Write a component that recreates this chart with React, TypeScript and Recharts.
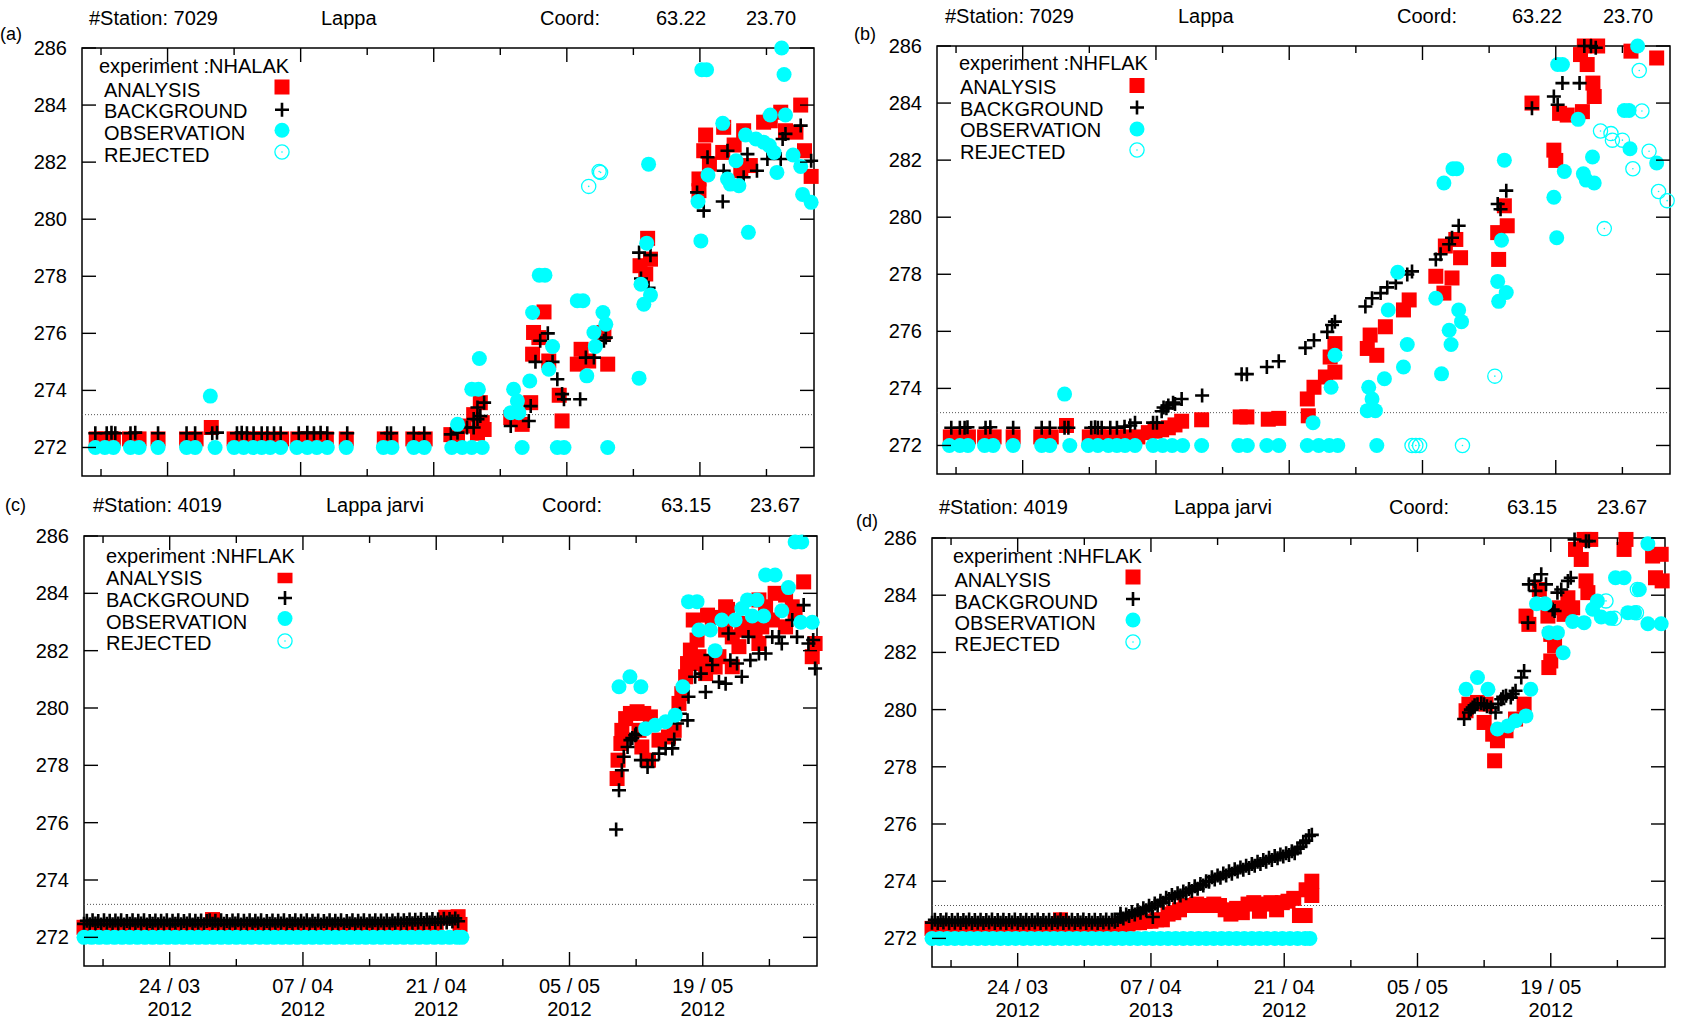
import { ScatterChart, Scatter, XAxis, YAxis, ReferenceArea, ReferenceLine } from 'recharts'

type Pt = [number, number]

// x = days counted from 24/03/2012, y = lake surface temperature (K)
const dayDomain: [number, number] = [-9, 68]
const tempDomain: [number, number] = [271, 286]
const dayTicks = [-7, 0, 7, 14, 21, 28, 35, 42, 49, 56, 63]
const labelDays = [0, 14, 28, 42, 56]
const tempTicks = [272, 274, 276, 278, 280, 282, 284, 286]
const dateLabels = ['24 / 03', '07 / 04', '21 / 04', '05 / 05', '19 / 05']
const yearsC = ['2012', '2012', '2012', '2012', '2012']
const yearsD = ['2012', '2013', '2012', '2012', '2012']
const freezing = 273.15
const seriesNames = ['ANALYSIS', 'BACKGROUND', 'OBSERVATION', 'REJECTED']

// ---------- (a) station 7029, NHALAK ----------
const aAnalysis: Pt[] = [
  [-7.5, 272.3], [-6.6, 272.3], [-5.7, 272.3], [-4.0, 272.3], [-3.0, 272.3], [-1.0, 272.3], [2.0, 272.3], [3.0, 272.3],
  [4.6, 272.7], [7.0, 272.3], [8.0, 272.3], [9.0, 272.3], [10.0, 272.3], [11.0, 272.3], [12.0, 272.3], [13.7, 272.3],
  [14.7, 272.3], [15.7, 272.3], [16.7, 272.3], [18.8, 272.3], [22.8, 272.3], [23.5, 272.3], [25.8, 272.3], [27.1, 272.3],
  [29.8, 272.45], [30.5, 272.46], [31.2, 272.75], [32.2, 273.15], [32.6, 272.5], [32.9, 273.57], [33.1, 272.87], [33.3, 272.63],
  [36.1, 273.05], [37.3, 272.81], [38.2, 273.57], [38.4, 275.27], [38.5, 276.03], [39.06, 275.85], [39.6, 276.75], [40.1, 275.03],
  [41.2, 273.83], [41.5, 272.93], [43.1, 274.92], [43.5, 275.44], [44.3, 275.03], [45.9, 276.03], [46.3, 274.92], [49.7, 278.37],
  [50.3, 278.08], [50.5, 279.33], [50.8, 278.6], [55.9, 281.41], [55.9, 281.0], [56.4, 282.4], [56.6, 282.95], [57.0, 281.93],
  [58.4, 282.34], [58.5, 283.22], [59.6, 282.6], [60.3, 281.7], [60.6, 283.1], [61.3, 281.88], [62.7, 283.4], [63.4, 283.45],
  [64.5, 283.75], [65.0, 283.1], [66.1, 283.05], [66.6, 284.0], [67.0, 282.4], [67.7, 281.5],
]
const aBackground: Pt[] = [
  [-7.6, 272.5], [-6.4, 272.5], [-5.9, 272.52], [-5.5, 272.5], [-3.9, 272.5], [-3.4, 272.52], [-1.0, 272.5], [2.0, 272.5],
  [2.9, 272.5], [4.7, 272.5], [5.2, 272.52], [7.3, 272.5], [7.8, 272.52], [8.35, 272.5], [9.05, 272.5], [9.9, 272.5],
  [10.5, 272.5], [11.2, 272.5], [11.9, 272.5], [13.8, 272.5], [14.7, 272.52], [15.4, 272.5], [16.1, 272.52], [16.8, 272.5],
  [18.9, 272.5], [23.1, 272.5], [23.5, 272.5], [25.9, 272.5], [27.0, 272.5], [29.8, 272.46], [30.5, 272.52], [31.5, 272.7],
  [32.2, 272.7], [32.2, 273.0], [32.6, 272.99], [32.6, 273.4], [32.9, 273.1], [33.3, 273.57], [36.1, 272.75], [38.0, 272.93],
  [38.2, 273.45], [38.7, 275.0], [39.2, 275.74], [40.0, 276.0], [40.5, 275.0], [41.0, 274.39], [41.5, 273.87], [41.7, 273.69],
  [43.4, 273.69], [44.0, 275.15], [44.85, 275.15], [45.9, 275.74], [46.1, 275.85], [49.6, 278.83], [49.8, 277.92], [50.6, 277.6],
  [50.8, 278.74], [55.7, 280.94], [56.4, 280.3], [56.8, 282.17], [58.4, 280.62], [58.5, 281.7], [58.9, 282.4], [60.6, 281.47],
  [61.0, 282.28], [62.0, 281.7], [63.1, 282.11], [64.5, 282.11], [64.7, 282.81], [65.0, 282.99], [66.6, 283.28], [67.7, 282.05],
]
const aObservation: Pt[] = [
  [-7.6, 272], [-6.6, 272], [-5.7, 272], [-3.9, 272], [-3.0, 272], [-1.0, 272], [2.0, 272], [2.9, 272],
  [5.0, 272], [7.0, 272], [8.0, 272], [9.0, 272], [9.9, 272], [10.8, 272], [11.9, 272], [13.6, 272],
  [14.7, 272], [15.7, 272], [16.8, 272], [18.8, 272], [22.7, 272], [23.6, 272], [25.9, 272], [27.0, 272],
  [29.9, 272], [31.0, 272], [32.0, 272], [33.1, 272], [37.3, 272], [41.0, 272], [41.7, 272], [46.3, 272],
  [4.5, 273.8], [30.5, 272.81], [32.0, 274.04], [32.7, 274.04], [32.8, 275.12], [36.1, 273.22], [36.95, 273.22], [36.8, 273.63],
  [36.4, 274.04], [38.1, 274.33], [38.4, 276.73], [39.1, 278.04], [39.7, 278.04], [40.1, 274.74], [40.5, 275.54], [43.1, 277.14],
  [43.7, 277.14], [44.1, 274.51], [44.85, 276.03], [45.0, 275.54], [45.8, 276.73], [46.1, 276.32], [49.6, 274.43], [49.8, 277.72],
  [50.1, 277.02], [50.4, 279.16], [50.6, 281.93], [50.8, 277.34], [55.8, 280.62], [56.1, 279.24], [56.2, 285.24], [56.7, 285.24],
  [56.85, 281.55], [58.4, 283.36], [58.9, 281.41], [59.2, 281.23], [59.8, 282.05], [60.1, 281.17], [60.8, 282.95], [61.1, 279.54],
  [61.9, 282.81], [62.7, 282.7], [63.3, 282.58], [63.4, 283.65], [63.8, 282.34], [64.1, 281.64], [64.6, 286.0], [64.85, 285.07],
  [65.0, 283.65], [65.8, 282.25], [66.6, 281.85], [66.8, 280.87], [67.7, 280.59],
]
const aRejected: Pt[] = [[44.3, 281.15], [45.4, 281.67], [45.55, 281.64]]

// ---------- (b) station 7029, NHFLAK ----------
const bAnalysis: Pt[] = [
  [-7.6, 272.3], [-6.6, 272.3], [-5.7, 272.3], [-4.0, 272.3], [-3.0, 272.3], [-1.0, 272.3], [1.9, 272.3], [3.0, 272.3],
  [4.6, 272.7], [7.0, 272.3], [8.0, 272.3], [9.0, 272.3], [10.0, 272.3], [11.0, 272.3], [12.1, 272.3], [13.2, 272.45],
  [13.9, 272.5], [14.6, 272.55], [15.3, 272.62], [16.0, 272.72], [16.7, 272.85], [18.8, 272.9], [22.85, 273.0], [23.55, 273.0],
  [25.8, 272.92], [26.9, 272.95], [29.9, 273.63], [30.0, 273.04], [30.6, 274.04], [31.8, 274.4], [32.3, 275.1], [32.8, 274.57],
  [32.8, 275.57], [36.2, 275.4], [36.5, 275.87], [37.2, 275.16], [38.1, 276.16], [40.0, 276.75], [40.6, 277.1], [43.4, 277.93],
  [44.25, 277.34], [44.4, 278.99], [45.1, 277.87], [45.5, 279.22], [46.0, 278.58], [49.9, 279.46], [50.0, 278.52], [50.6, 280.4],
  [50.9, 279.7], [53.5, 284.0], [55.8, 282.35], [56.0, 281.99], [56.4, 283.64], [57.2, 283.58], [58.6, 285.7], [58.8, 283.7],
  [59.0, 286.0], [59.3, 285.35], [59.9, 284.7], [60.04, 284.23], [60.4, 286.0], [63.9, 285.82], [66.6, 285.58],
]
const bBackground: Pt[] = [
  [-7.5, 272.62], [-6.6, 272.62], [-6.1, 272.62], [-5.8, 272.64], [-3.9, 272.62], [-3.4, 272.64], [-1.0, 272.62], [2.0, 272.62],
  [2.85, 272.62], [4.4, 272.62], [4.8, 272.62], [7.2, 272.62], [7.6, 272.64], [7.9, 272.62], [8.3, 272.62], [9.2, 272.62],
  [9.9, 272.62], [10.7, 272.66], [11.3, 272.7], [11.8, 272.8], [13.7, 272.8], [14.1, 272.8], [14.6, 273.2], [14.8, 273.33],
  [15.1, 273.3], [15.3, 273.4], [15.8, 273.5], [16.0, 273.45], [16.7, 273.63], [18.85, 273.75], [23.0, 274.5], [23.55, 274.5],
  [25.65, 274.75], [26.9, 274.95], [29.7, 275.42], [30.6, 275.69], [32.0, 275.98], [32.5, 276.22], [32.8, 276.34], [36.0, 276.87],
  [36.7, 277.16], [37.6, 277.34], [38.3, 277.54], [39.2, 277.7], [40.4, 277.99], [40.9, 278.1], [43.4, 278.52], [43.9, 278.7],
  [44.8, 279.05], [45.1, 279.28], [45.8, 279.7], [49.9, 280.46], [50.2, 280.28], [50.8, 280.93], [53.5, 283.82], [55.8, 284.23],
  [56.2, 283.94], [56.7, 284.7], [58.5, 284.7], [59.0, 286.0], [59.7, 286.0], [60.2, 285.94],
]
const bObservation: Pt[] = [
  [-7.7, 272], [-6.6, 272], [-5.75, 272], [-4.0, 272], [-3.1, 272], [-1.0, 272], [2.0, 272], [2.85, 272],
  [4.95, 272], [6.9, 272], [7.9, 272], [9.0, 272], [9.9, 272], [10.75, 272], [11.8, 272], [13.7, 272],
  [14.7, 272], [15.7, 272], [16.8, 272], [18.8, 272], [22.7, 272], [23.6, 272], [25.65, 272], [26.9, 272],
  [29.9, 272], [31.1, 272], [32.2, 272], [33.1, 272], [37.2, 272],
  [4.4, 273.8], [30.5, 272.8], [32.4, 274.04], [32.8, 275.16], [36.2, 273.22], [37.05, 273.22], [36.7, 273.63], [36.35, 274.04],
  [38.0, 274.34], [38.4, 276.75], [39.4, 278.07], [40.0, 274.75], [40.4, 275.54], [43.4, 277.16], [44.0, 274.51], [44.25, 281.2],
  [44.8, 276.04], [45.0, 275.54], [45.2, 281.7], [45.6, 281.7], [45.8, 276.75], [46.1, 276.34], [49.9, 277.75], [50.0, 277.05],
  [50.3, 279.19], [50.6, 282.0], [50.8, 277.36], [55.8, 280.7], [56.1, 279.28], [56.2, 285.35], [56.7, 285.35], [56.9, 281.6],
  [58.35, 283.43], [58.9, 281.52], [59.2, 281.3], [59.86, 282.11], [60.04, 281.2], [63.2, 283.74], [63.7, 283.74], [63.8, 282.4],
  [64.6, 286.0], [66.6, 281.9],
]
const bRejected: Pt[] = [
  [40.9, 272], [41.3, 272], [41.7, 272], [46.2, 272], [49.6, 274.43], [61.1, 279.6], [60.7, 283.02], [61.8, 282.93],
  [61.95, 282.7], [63.0, 282.7], [64.1, 281.7], [64.77, 285.14], [65.05, 283.72], [65.8, 282.31], [66.8, 280.9], [67.7, 280.58],
]

// ---------- (c) & (d) station 4019 ----------
// frozen-lake observations held at 272 K
const obs4019BandDays = [
  -9.0, -8.2, -7.4, -6.6, -5.8, -5.0, -4.2, -3.4, -2.6, -1.8, -1.0, -0.2, 0.6, 1.4, 2.2, 3.0, 3.8,
  4.6, 5.4, 6.2, 7.0, 7.8, 8.6, 9.4, 10.2, 11.0, 11.8, 12.6, 13.4, 14.2, 15.0, 15.8, 16.6,
  17.4, 18.2, 19.0, 19.8, 20.6, 21.4, 22.2, 23.0, 23.8, 24.6, 25.4, 26.2, 27.0, 27.8, 28.6, 29.4, 30.2, 30.7,
]
const obs4019BandValue = 272

const cAnalysisBandDays = [
  -9.0, -8.0, -7.0, -6.0, -5.0, -4.0, -3.0, -2.0, -1.0, 0.0, 1.0, 2.0, 3.0, 4.0, 5.0, 6.0, 7.0, 8.0, 9.0, 10.0,
  11.0, 12.0, 13.0, 14.0, 15.0, 16.0, 17.0, 18.0, 19.0, 20.0, 21.0, 22.0, 23.0, 24.0, 25.0, 26.0, 27.0, 28.0,
]
const cAnalysisBandValue = 272.35
const cAnalysis: Pt[] = [
  [4.5, 272.62], [29.0, 272.7], [30.3, 272.72], [30.5, 272.45],
  [47.0, 277.54], [47.1, 278.18], [47.4, 278.76], [47.5, 279.22], [47.9, 279.63], [48.4, 279.81], [49.1, 279.87], [49.8, 279.81],
  [50.5, 279.69], [49.3, 279.22], [49.6, 278.64], [50.3, 278.18], [51.4, 278.88], [52.4, 278.99], [53.0, 279.22], [53.5, 280.16],
  [53.8, 280.5], [54.2, 281.09], [54.4, 281.55], [54.7, 282.02], [55.0, 283.07], [55.4, 282.37], [55.6, 281.79], [55.9, 281.55],
  [56.3, 281.2], [56.5, 283.24], [56.8, 281.55], [57.0, 283.16], [57.3, 281.43], [57.7, 281.79], [58.4, 282.72], [58.4, 283.53],
  [58.6, 283.44], [59.1, 282.48], [59.1, 281.44], [59.8, 282.14], [60.1, 282.95], [60.5, 282.72], [61.5, 282.72], [61.9, 283.77],
  [61.9, 282.25], [62.2, 282.83], [62.6, 283.53], [63.3, 283.07], [63.6, 284.0], [64.7, 283.94], [64.7, 282.83], [65.4, 283.53],
  [65.7, 283.3], [66.6, 284.4], [67.5, 281.79], [67.8, 282.25],
]
const cBackground: Pt[] = [
  [-9.0, 272.47], [-8.7, 272.58], [-8.4, 272.46], [-8.1, 272.6], [-7.8, 272.48], [-7.5, 272.57], [-7.2, 272.45], [-6.9, 272.6],
  [-6.6, 272.47], [-6.3, 272.58], [-6.0, 272.46], [-5.7, 272.59], [-5.4, 272.48], [-5.1, 272.6], [-4.8, 272.45], [-4.5, 272.57],
  [-4.2, 272.47], [-3.9, 272.6], [-3.6, 272.46], [-3.3, 272.58], [-3.0, 272.48], [-2.7, 272.6], [-2.4, 272.45], [-2.1, 272.57],
  [-1.8, 272.47], [-1.5, 272.59], [-1.2, 272.46], [-0.9, 272.58], [-0.6, 272.48], [-0.3, 272.6], [0.0, 272.45], [0.3, 272.58],
  [0.6, 272.47], [0.9, 272.6], [1.2, 272.46], [1.5, 272.57], [1.8, 272.48], [2.1, 272.6], [2.4, 272.45], [2.7, 272.58],
  [3.0, 272.47], [3.3, 272.59], [3.6, 272.46], [3.9, 272.57], [4.2, 272.6], [4.5, 272.47], [4.8, 272.58], [5.1, 272.45],
  [5.4, 272.6], [5.7, 272.47], [6.0, 272.57], [6.3, 272.46], [6.6, 272.59], [6.9, 272.48], [7.2, 272.6], [7.5, 272.45],
  [7.8, 272.58], [8.1, 272.47], [8.4, 272.6], [8.7, 272.46], [9.0, 272.58], [9.3, 272.48], [9.6, 272.6], [9.9, 272.45],
  [10.2, 272.57], [10.5, 272.47], [10.8, 272.59], [11.1, 272.46], [11.4, 272.58], [11.7, 272.48], [12.0, 272.6], [12.3, 272.45],
  [12.6, 272.57], [12.9, 272.47], [13.2, 272.6], [13.5, 272.46], [13.8, 272.58], [14.1, 272.48], [14.4, 272.6], [14.7, 272.46],
  [15.0, 272.58], [15.3, 272.47], [15.6, 272.59], [15.9, 272.45], [16.2, 272.57], [16.5, 272.48], [16.8, 272.6], [17.1, 272.46],
  [17.4, 272.58], [17.7, 272.47], [18.0, 272.6], [18.3, 272.45], [18.6, 272.57], [18.9, 272.48], [19.2, 272.6], [19.5, 272.46],
  [19.8, 272.58], [20.1, 272.48], [20.4, 272.6], [20.7, 272.46], [21.0, 272.58], [21.3, 272.48], [21.6, 272.6], [21.9, 272.47],
  [22.2, 272.59], [22.5, 272.48], [22.8, 272.6], [23.1, 272.47], [23.4, 272.59], [23.7, 272.49], [24.0, 272.61], [24.3, 272.48],
  [24.6, 272.6], [24.9, 272.5], [25.2, 272.62], [25.5, 272.49], [25.8, 272.61], [26.1, 272.51], [26.4, 272.63], [26.7, 272.5],
  [27.0, 272.62], [27.3, 272.52], [27.6, 272.64], [27.9, 272.51], [28.2, 272.63], [28.5, 272.53], [28.8, 272.65], [29.1, 272.52],
  [29.4, 272.64], [29.7, 272.55], [30.0, 272.66], [30.3, 272.56],
  [46.9, 275.76], [47.2, 277.13], [47.5, 277.83], [47.7, 278.3], [48.1, 278.64], [48.4, 278.88], [48.6, 278.95], [48.9, 279.05],
  [49.0, 279.1], [49.5, 278.18], [50.2, 277.94], [50.7, 278.18], [51.4, 278.41], [52.1, 278.59], [52.8, 278.59], [53.0, 278.9],
  [53.3, 279.46], [53.6, 279.8], [54.4, 279.57], [54.5, 280.39], [55.2, 281.09], [55.8, 281.2], [56.3, 280.56], [56.8, 281.85],
  [57.0, 281.5], [57.7, 280.91], [58.4, 280.85], [58.7, 282.6], [58.9, 281.67], [59.6, 281.55], [60.1, 281.09], [60.8, 282.48],
  [61.0, 281.67], [61.9, 281.9], [62.6, 281.9], [63.3, 282.48], [64.0, 282.48], [64.3, 282.25], [65.4, 283.07], [65.9, 282.48],
  [66.6, 283.59], [67.1, 282.25], [67.6, 282.37], [67.8, 281.38],
]
const cObservation: Pt[] = [
  [47.2, 280.74], [48.35, 281.09], [49.5, 280.74], [50.0, 279.28], [51.0, 279.4], [52.1, 279.52], [53.1, 279.75], [53.9, 280.74],
  [54.5, 283.71], [55.4, 283.71], [55.6, 282.72], [56.8, 282.72], [57.3, 282.0], [58.0, 283.07], [59.4, 283.07], [60.1, 283.47],
  [60.7, 283.77], [61.7, 283.77], [61.2, 283.21], [62.4, 283.21], [62.6, 284.64], [63.6, 284.64], [64.3, 283.39], [65.0, 284.2],
  [65.7, 285.79], [66.4, 285.79], [66.3, 282.99], [67.5, 282.99],
]
const cRejected: Pt[] = []

const dAnalysisBandDays = [
  -9.0, -8.0, -7.0, -6.0, -5.0, -4.0, -3.0, -2.0, -1.0, 0.0, 1.0, 2.0, 3.0, 4.0, 5.0, 6.0, 7.0, 8.0, 9.0, 10.0,
]
const dAnalysisBandValue = 272.35
const dAnalysis: Pt[] = [
  [4.5, 272.65], [10.4, 272.45], [11.0, 272.45], [11.6, 272.5], [12.2, 272.55], [12.8, 272.55], [13.4, 272.6], [14.0, 272.6],
  [14.6, 272.65], [15.2, 272.65], [15.8, 272.85], [16.4, 272.9], [17.0, 273.0], [17.6, 273.15], [18.2, 273.15], [18.8, 273.2],
  [19.4, 273.15], [20.0, 273.15], [20.6, 273.2], [21.2, 273.15], [21.8, 273.0], [22.4, 272.85], [23.0, 273.05], [23.6, 272.9],
  [24.2, 273.2], [24.8, 273.25], [25.4, 272.95], [26.0, 273.2], [26.6, 273.25], [27.2, 273.0], [27.8, 273.25], [28.4, 273.3],
  [29.0, 273.4], [29.6, 272.8], [30.2, 272.8], [30.3, 273.7], [30.9, 274.0], [30.9, 273.5],
  [47.1, 279.96], [47.4, 280.19], [48.3, 280.25], [49.2, 280.19], [49.0, 279.55], [49.9, 279.14], [50.1, 278.21], [50.4, 278.91],
  [51.3, 279.26], [52.3, 279.67], [53.2, 280.19], [53.4, 283.27], [53.7, 282.98], [54.8, 284.2], [55.7, 283.27], [55.8, 281.47],
  [56.0, 282.63], [56.0, 281.7], [56.4, 282.23], [56.9, 283.56], [57.4, 283.33], [57.8, 283.91], [58.3, 283.56], [58.6, 285.6],
  [59.2, 285.25], [59.5, 285.95], [59.7, 284.5], [59.9, 284.09], [60.2, 285.95], [63.7, 285.6], [63.9, 285.95], [66.7, 285.37],
  [67.0, 284.61], [67.6, 285.43], [67.7, 284.5],
]
const dBackground: Pt[] = [
  [-9.0, 272.55], [-8.7, 272.65], [-8.4, 272.54], [-8.1, 272.64], [-7.8, 272.56], [-7.5, 272.66], [-7.2, 272.54], [-6.9, 272.64],
  [-6.6, 272.55], [-6.3, 272.65], [-6.0, 272.54], [-5.7, 272.64], [-5.4, 272.56], [-5.1, 272.66], [-4.8, 272.54], [-4.5, 272.64],
  [-4.2, 272.55], [-3.9, 272.65], [-3.6, 272.54], [-3.3, 272.64], [-3.0, 272.56], [-2.7, 272.66], [-2.4, 272.54], [-2.1, 272.64],
  [-1.8, 272.55], [-1.5, 272.65], [-1.2, 272.54], [-0.9, 272.64], [-0.6, 272.56], [-0.3, 272.66], [0.0, 272.54], [0.3, 272.64],
  [0.6, 272.55], [0.9, 272.65], [1.2, 272.54], [1.5, 272.64], [1.8, 272.56], [2.1, 272.66], [2.4, 272.54], [2.7, 272.64],
  [3.0, 272.55], [3.3, 272.65], [3.6, 272.54], [3.9, 272.64], [4.2, 272.56], [4.5, 272.66], [4.8, 272.54], [5.1, 272.64],
  [5.4, 272.55], [5.7, 272.65], [6.0, 272.54], [6.3, 272.64], [6.6, 272.56], [6.9, 272.66], [7.2, 272.54], [7.5, 272.64],
  [7.8, 272.55], [8.1, 272.65], [8.4, 272.54], [8.7, 272.64], [9.0, 272.56], [9.3, 272.66], [9.6, 272.55], [9.9, 272.65],
  [10.2, 272.58], [10.5, 272.64], [10.8, 272.75], [10.8, 272.86], [11.1, 272.7], [11.4, 272.84], [11.7, 272.78], [12.0, 272.92],
  [12.3, 272.84], [12.6, 272.98], [12.9, 272.9], [13.2, 273.05], [13.5, 272.98], [13.8, 273.14], [14.1, 273.06], [14.2, 272.75],
  [14.4, 273.22], [14.7, 273.15], [15.0, 273.32], [15.3, 273.25], [15.6, 273.42], [15.9, 273.38], [16.2, 273.52], [16.5, 273.44],
  [16.8, 273.58], [17.1, 273.5], [17.4, 273.64], [17.7, 273.58], [18.0, 273.73], [18.3, 273.66], [18.6, 273.82], [18.9, 273.74],
  [19.2, 273.9], [19.5, 273.85], [19.8, 274.0], [20.1, 273.98], [20.4, 274.14], [20.7, 274.06], [21.0, 274.2], [21.3, 274.12],
  [21.6, 274.27], [21.9, 274.2], [22.2, 274.35], [22.5, 274.26], [22.8, 274.42], [23.1, 274.34], [23.4, 274.48], [23.7, 274.4],
  [24.0, 274.54], [24.3, 274.46], [24.6, 274.6], [24.9, 274.54], [25.2, 274.68], [25.5, 274.6], [25.8, 274.74], [26.1, 274.68],
  [26.4, 274.82], [26.7, 274.74], [27.0, 274.88], [27.3, 274.8], [27.6, 274.93], [27.9, 274.86], [28.2, 274.98], [28.5, 274.92],
  [28.8, 275.05], [29.1, 274.98], [29.4, 275.14], [29.7, 275.2], [30.0, 275.34], [30.3, 275.42], [30.6, 275.58], [30.9, 275.62],
  [46.9, 279.67], [47.4, 279.9], [47.6, 280.0], [47.8, 280.07], [48.0, 280.15], [48.3, 280.19], [48.7, 280.22], [49.0, 280.19],
  [49.3, 280.12], [49.7, 280.07], [50.2, 279.9], [50.5, 280.2], [50.8, 280.36], [51.0, 280.45], [51.3, 280.48], [51.8, 280.42],
  [52.0, 280.55], [52.3, 280.66], [52.9, 281.12], [53.2, 281.35], [53.6, 283.04], [53.7, 284.38], [54.3, 284.5], [54.4, 284.15],
  [55.0, 284.73], [55.5, 284.38], [56.2, 283.5], [56.4, 283.45], [56.7, 284.09], [57.1, 284.2], [57.8, 284.5], [58.1, 284.61],
  [58.5, 285.95], [59.7, 285.89], [60.0, 285.89],
]
const dObservation: Pt[] = [
  [47.1, 280.71], [48.3, 281.12], [49.4, 280.71], [50.4, 279.32], [51.5, 279.43], [52.3, 279.61], [53.4, 279.78], [53.9, 280.71],
  [54.5, 283.7], [55.4, 283.7], [55.8, 282.69], [56.7, 282.69], [57.3, 281.99], [58.3, 283.08], [59.5, 283.04], [60.4, 283.51],
  [60.9, 283.8], [61.3, 283.24], [62.3, 283.19], [62.8, 284.61], [63.7, 284.61], [64.1, 283.39], [64.8, 283.39], [65.3, 284.2],
  [66.2, 285.8], [66.2, 283.0], [67.6, 283.0],
]
const dRejected: Pt[] = [[61.8, 283.8], [62.7, 283.19], [65.0, 283.39], [65.1, 284.2]]

// ---------- drawing ----------
const FONT = '"Liberation Sans", Arial, Helvetica, sans-serif'
const RED = '#ff0000'
const CYAN = '#00ffff'
const AXIS_W = 90
const PAD = 14
const BELOW = 54

const square = (p: any) => <rect x={p.cx - 7.5} y={p.cy - 7.5} width={15} height={15} fill={RED} />
const plus = (p: any) => (
  <path d={`M${p.cx - 7} ${p.cy}h14M${p.cx} ${p.cy - 7}v14`} stroke="#000" strokeWidth={2.6} fill="none" />
)
const dot = (p: any) => <circle cx={p.cx} cy={p.cy} r={7.5} fill={CYAN} />
const ring = (p: any) => (
  <g>
    <circle cx={p.cx} cy={p.cy} r={7.1} fill="none" stroke={CYAN} strokeWidth={1.3} />
    <circle cx={p.cx} cy={p.cy} r={0.8} fill={CYAN} />
  </g>
)

const rows = (pts: Pt[]) => pts.map(([x, y]) => ({ x, y }))
const band = (days: number[], value: number) => days.map((x) => ({ x, y: value }))

type Box = { left: number; top: number; width: number; height: number }

function Panel(props: {
  box: Box
  analysis: { x: number; y: number }[]
  background: { x: number; y: number }[]
  observation: { x: number; y: number }[]
  rejected: { x: number; y: number }[]
  years?: string[]
}) {
  const { box, years } = props
  const plotTop = PAD
  const plotBottom = PAD + box.height
  const plotLeft = AXIS_W
  const plotRight = AXIS_W + box.width

  const xTick = ({ x, payload }: any) => {
    const i = labelDays.indexOf(payload.value)
    const len = i >= 0 ? 14 : 7
    return (
      <g>
        <line x1={x} x2={x} y1={plotBottom} y2={plotBottom - len} stroke="#000" strokeWidth={1.4} />
        <line x1={x} x2={x} y1={plotTop} y2={plotTop + len} stroke="#000" strokeWidth={1.4} />
        {years && i >= 0 && (
          <text x={x} y={plotBottom + 27} textAnchor="middle" fontSize={20} fontFamily={FONT} fill="#000">
            {dateLabels[i]}
          </text>
        )}
        {years && i >= 0 && (
          <text x={x} y={plotBottom + 50} textAnchor="middle" fontSize={20} fontFamily={FONT} fill="#000">
            {years[i]}
          </text>
        )}
      </g>
    )
  }

  const yTick = ({ y, payload }: any) => (
    <g>
      <line x1={plotLeft} x2={plotLeft + 14} y1={y} y2={y} stroke="#000" strokeWidth={1.4} />
      <line x1={plotRight - 14} x2={plotRight} y1={y} y2={y} stroke="#000" strokeWidth={1.4} />
      <text x={plotLeft - 15} y={y + 7} textAnchor="end" fontSize={20} fontFamily={FONT} fill="#000">
        {payload.value}
      </text>
    </g>
  )

  return (
    <div style={{ position: 'absolute', left: box.left - AXIS_W, top: box.top - PAD }}>
      <ScatterChart
        width={AXIS_W + box.width + PAD}
        height={PAD + box.height + BELOW}
        margin={{ top: PAD, right: PAD, bottom: 0, left: 0 }}
      >
        <XAxis
          type="number"
          dataKey="x"
          domain={dayDomain}
          ticks={dayTicks}
          interval={0}
          axisLine={false}
          tickLine={false}
          tick={xTick}
          height={BELOW}
        />
        <YAxis
          type="number"
          dataKey="y"
          domain={tempDomain}
          ticks={tempTicks}
          interval={0}
          axisLine={false}
          tickLine={false}
          tick={yTick}
          width={AXIS_W}
        />
        <ReferenceArea x1={dayDomain[0]} x2={dayDomain[1]} y1={tempDomain[0]} y2={tempDomain[1]} fill="none" stroke="#000" strokeWidth={1.5} fillOpacity={0} />
        <ReferenceLine y={freezing} stroke="#555" strokeWidth={1} strokeDasharray="1 2" />
        <Scatter data={props.analysis} shape={square} isAnimationActive={false} />
        <Scatter data={props.background} shape={plus} isAnimationActive={false} />
        <Scatter data={props.observation} shape={dot} isAnimationActive={false} />
        <Scatter data={props.rejected} shape={ring} isAnimationActive={false} />
      </ScatterChart>
    </div>
  )
}

type Header = { letter: string; letterAt: [number, number]; baseline: number; items: [number, string][] }
type Key = {
  title: string
  titleAt: [number, number]
  textX: number
  baselines: number[]
  markerX: number
  markerYs: number[]
  squareH: number
}

const headers: Header[] = [
  { letter: '(a)', letterAt: [0, 40], baseline: 25, items: [[89, '#Station: 7029'], [321, 'Lappa'], [540, 'Coord:'], [656, '63.22'], [746, '23.70']] },
  { letter: '(b)', letterAt: [854, 40], baseline: 22.5, items: [[945, '#Station: 7029'], [1178, 'Lappa'], [1397, 'Coord:'], [1512, '63.22'], [1603, '23.70']] },
  { letter: '(c)', letterAt: [5, 511], baseline: 512, items: [[93, '#Station: 4019'], [326, 'Lappa jarvi'], [542, 'Coord:'], [661, '63.15'], [750, '23.67']] },
  { letter: '(d)', letterAt: [856, 527], baseline: 514, items: [[939, '#Station: 4019'], [1174, 'Lappa jarvi'], [1389, 'Coord:'], [1507, '63.15'], [1597, '23.67']] },
]

const keys: Key[] = [
  { title: 'experiment :NHALAK', titleAt: [99, 73], textX: 104, baselines: [96.5, 118, 139.5, 161.5], markerX: 282, markerYs: [87, 109.7, 130.2, 152], squareH: 15 },
  { title: 'experiment :NHFLAK', titleAt: [959, 70], textX: 960, baselines: [94, 115.5, 137, 158.5], markerX: 1137, markerYs: [85.5, 107.5, 129, 150], squareH: 15 },
  { title: 'experiment :NHFLAK', titleAt: [106, 563], textX: 106, baselines: [584.5, 606.5, 628.5, 649.5], markerX: 285, markerYs: [578, 598, 618.5, 641], squareH: 10.5 },
  { title: 'experiment :NHFLAK', titleAt: [953, 563], textX: 954.5, baselines: [587, 609, 630, 651], markerX: 1133, markerYs: [577, 599, 620, 642], squareH: 15 },
]

function Overlay() {
  return (
    <svg
      width={1681}
      height={1023}
      style={{ position: 'absolute', left: 0, top: 0, pointerEvents: 'none' }}
      fontFamily={FONT}
      fontSize={20}
      fill="#000"
    >
      {headers.map((h) => (
        <g key={h.letter}>
          <text x={h.letterAt[0]} y={h.letterAt[1]} fontSize={18}>{h.letter}</text>
          {h.items.map(([x, s]) => (
            <text key={s + x} x={x} y={h.baseline}>{s}</text>
          ))}
        </g>
      ))}
      {keys.map((k, n) => (
        <g key={n}>
          <text x={k.titleAt[0]} y={k.titleAt[1]}>{k.title}</text>
          {seriesNames.map((s, i) => (
            <text key={s} x={k.textX} y={k.baselines[i]}>{s}</text>
          ))}
          <rect x={k.markerX - 7.5} y={k.markerYs[0] - k.squareH / 2} width={15} height={k.squareH} fill={RED} />
          {plus({ cx: k.markerX, cy: k.markerYs[1] })}
          {dot({ cx: k.markerX, cy: k.markerYs[2] })}
          {ring({ cx: k.markerX, cy: k.markerYs[3] })}
        </g>
      ))}
    </svg>
  )
}

export default function App() {
  return (
    <div
      style={{
        position: 'fixed',
        left: 0,
        top: 0,
        width: 1681,
        height: 1023,
        overflow: 'hidden',
        background: '#fff',
        fontFamily: FONT,
      }}
    >
      <Panel
        box={{ left: 82, top: 48, width: 732, height: 428 }}
        analysis={rows(aAnalysis)}
        background={rows(aBackground)}
        observation={rows(aObservation)}
        rejected={rows(aRejected)}
      />
      <Panel
        box={{ left: 937, top: 46, width: 733, height: 428 }}
        analysis={rows(bAnalysis)}
        background={rows(bBackground)}
        observation={rows(bObservation)}
        rejected={rows(bRejected)}
      />
      <Panel
        box={{ left: 84, top: 536, width: 733, height: 430 }}
        analysis={[...band(cAnalysisBandDays, cAnalysisBandValue), ...rows(cAnalysis)]}
        background={rows(cBackground)}
        observation={[...band(obs4019BandDays, obs4019BandValue), ...rows(cObservation)]}
        rejected={rows(cRejected)}
        years={yearsC}
      />
      <Panel
        box={{ left: 932, top: 538, width: 733, height: 429 }}
        analysis={[...band(dAnalysisBandDays, dAnalysisBandValue), ...rows(dAnalysis)]}
        background={rows(dBackground)}
        observation={[...band(obs4019BandDays, obs4019BandValue), ...rows(dObservation)]}
        rejected={rows(dRejected)}
        years={yearsD}
      />
      <Overlay />
    </div>
  )
}
